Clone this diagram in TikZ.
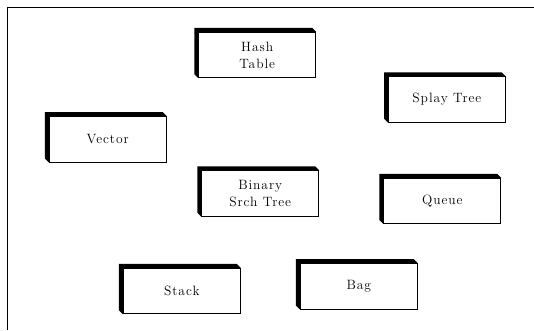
\documentclass[tikz,border=0pt]{standalone}
\usepackage{fontspec}
\setmainfont{Latin Modern Roman}[LetterSpace=7]
\begin{document}
\begin{tikzpicture}[x=1pt,y=-1pt,
  dsbox/.style={draw=black, line width=0.8pt, fill=white, minimum width=117pt, minimum height=45.5pt,
    inner sep=0pt, align=center,
    font=\fontsize{13.5}{17}\selectfont},
  shadowfill/.style={fill=black}]
\useasboundingbox (0,0) rectangle (534,330);
\fill[white] (0,0) rectangle (534,330);
\coordinate (ftl) at (7,7);
\coordinate (ftr) at (534,7);
\coordinate (fbl) at (7,330);
\draw[line width=1pt] (ftr) -- (ftl) -- (fbl);

\node[dsbox] (hash) at (257.2,55) {Hash\\Table};
\node[dsbox] (splay) at (446.9,99.5) {Splay Tree};
\node[dsbox] (vector) at (107.7,139.2) {Vector};
\node[dsbox] (bst) at (260.2,193.5) {Binary\\Srch Tree};
\node[dsbox] (queue) at (442.3,201) {Queue};
\node[dsbox] (stack) at (181.8,291) {Stack};
\node[dsbox] (bag) at (358.8,286.3) {Bag};

\foreach \n in {hash,splay,vector,bst,queue,stack,bag}{
  \fill[shadowfill] (\n.south west) -- ([shift={(-4pt,4pt)}]\n.south west)
    -- ([shift={(-4pt,4pt)}]\n.north west) -- ([shift={(-4pt,4pt)}]\n.north east)
    -- (\n.north east) -- (\n.north west) -- cycle;
}
\end{tikzpicture}
\end{document}
